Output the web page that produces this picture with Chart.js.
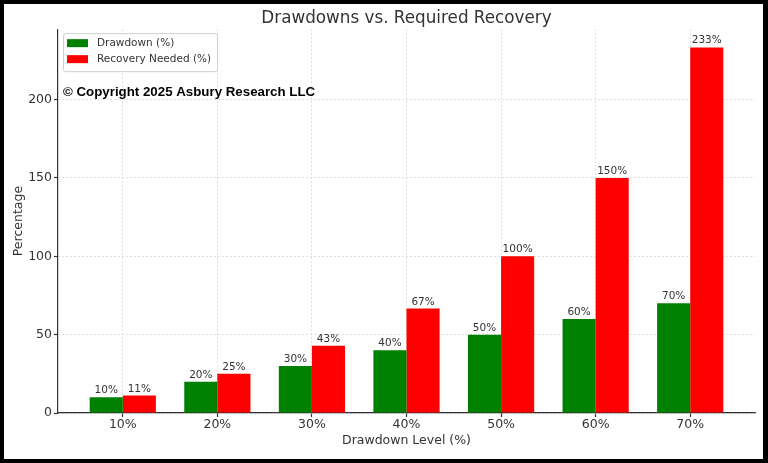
<!DOCTYPE html>
<html><head><meta charset="utf-8">
<script src="https://cdn.jsdelivr.net/npm/chart.js@4"></script>
<style>
html,body{margin:0;padding:0;background:#000;}
#frame{position:relative;width:768px;height:463px;background:#000;overflow:hidden;}
#box{position:absolute;left:4px;top:4px;width:759px;height:455px;background:#fff;}
</style></head><body>
<div id="frame"><div id="box"><canvas id="c"></canvas></div></div>
<script>
const categories = ['10%', '20%', '30%', '40%', '50%', '60%', '70%'];
const drawdown = [10, 20, 30, 40, 50, 60, 70];
const recovery = [11.1, 25, 42.9, 66.7, 100, 150, 233.3];
const yTicks = [0, 50, 100, 150, 200];
const seriesNames = ['Drawdown (%)', 'Recovery Needed (%)'];
const seriesColors = ['#008000', '#ff0000'];
const titleText = 'Drawdowns vs. Required Recovery';
const copyrightText = '\u00A9 Copyright 2025 Asbury Research LLC';

const FONT = '"DejaVu Sans", sans-serif';
const TXT = '#333';

const valueLabels = {
  id: 'valueLabels',
  afterDatasetsDraw(chart) {
    const ctx = chart.ctx;
    ctx.save();
    ctx.font = '10.5px ' + FONT;
    ctx.fillStyle = TXT;
    ctx.textAlign = 'center';
    ctx.textBaseline = 'alphabetic';
    [drawdown, recovery].forEach((vals, di) => {
      chart.getDatasetMeta(di).data.forEach((el, i) => {
        ctx.fillText(Math.round(vals[i]) + '%', el.x, el.y - 4);
      });
    });
    ctx.restore();
  }
};

const overlay = {
  id: 'overlay',
  afterDraw(chart) {
    const ctx = chart.ctx;
    const a = chart.chartArea;
    ctx.save();
    // legend box
    const bx = a.left + 5, by = a.top + 4, bw = 154, bh = 38;
    ctx.fillStyle = 'rgba(255,255,255,0.8)';
    ctx.strokeStyle = '#d0d0d0';
    ctx.lineWidth = 1;
    ctx.beginPath();
    ctx.roundRect(bx + 0.5, by + 0.5, bw, bh, 2);
    ctx.fill();
    ctx.stroke();
    ctx.font = '10.5px ' + FONT;
    ctx.textBaseline = 'middle';
    ctx.textAlign = 'left';
    seriesNames.forEach((name, i) => {
      const cy = by + 10 + i * 16;
      ctx.fillStyle = seriesColors[i];
      ctx.fillRect(bx + 4, cy - 4, 21, 8);
      ctx.fillStyle = TXT;
      ctx.fillText(name, bx + 34, cy);
    });
    // copyright
    ctx.font = 'bold 13.3px "Liberation Sans", Arial, sans-serif';
    ctx.fillStyle = '#000';
    ctx.textBaseline = 'middle';
    ctx.fillText(copyrightText, a.left + 5, a.top + 63);
    ctx.restore();
  }
};

new Chart(document.getElementById('c'), {
  type: 'bar',
  data: {
    datasets: [
      { label: seriesNames[0], data: drawdown.map((v, i) => ({ x: i, y: v })), backgroundColor: seriesColors[0], borderWidth: 0 },
      { label: seriesNames[1], data: recovery.map((v, i) => ({ x: i, y: v })), backgroundColor: seriesColors[1], borderWidth: 0 }
    ]
  },
  options: {
    responsive: true,
    maintainAspectRatio: false,
    animation: false,
    categoryPercentage: 0.7,
    barPercentage: 1.0,
    layout: { padding: { left: 0, right: 8, top: 0, bottom: 0 } },
    plugins: {
      legend: { display: false },
      tooltip: { enabled: false },
      title: {
        display: true, text: titleText, fullSize: false, color: TXT,
        font: { family: FONT, size: 16.8, weight: 'normal' },
        padding: { top: 5, bottom: 0 }
      }
    },
    scales: {
      x: {
        type: 'linear', min: -0.685, max: 6.685, offset: false,
        afterBuildTicks: s => { s.ticks = categories.map((c, i) => ({ value: i })); },
        afterFit: s => { s.height = 46; },
        ticks: {
          callback: v => categories[v] !== undefined ? categories[v] : '',
          color: TXT, font: { family: FONT, size: 12.5 }, padding: 0, autoSkip: false, maxRotation: 0
        },
        grid: { offset: false, color: '#d6d6d6', lineWidth: 0.8, tickLength: 4, tickColor: '#333', tickWidth: 1.2 },
        border: { color: '#333', width: 1.2, dash: [2, 2] },
        title: { display: true, text: 'Drawdown Level (%)', color: TXT, font: { family: FONT, size: 12.5 }, padding: { top: 0, bottom: 10.5 } }
      },
      y: {
        min: 0, max: 245,
        afterBuildTicks: s => { s.ticks = yTicks.map(v => ({ value: v })); },
        afterFit: s => { s.width = 54; },
        ticks: { color: TXT, font: { family: FONT, size: 12.5 }, padding: 2 },
        grid: { color: '#d6d6d6', lineWidth: 0.8, tickLength: 4, tickColor: '#333', tickWidth: 1.2 },
        border: { color: '#333', width: 1.2, dash: [2, 2] },
        title: { display: true, text: 'Percentage', color: TXT, font: { family: FONT, size: 12.5 }, padding: { top: 7.5, bottom: 0 } }
      }
    }
  },
  plugins: [valueLabels, overlay]
});
</script>
</body></html>
